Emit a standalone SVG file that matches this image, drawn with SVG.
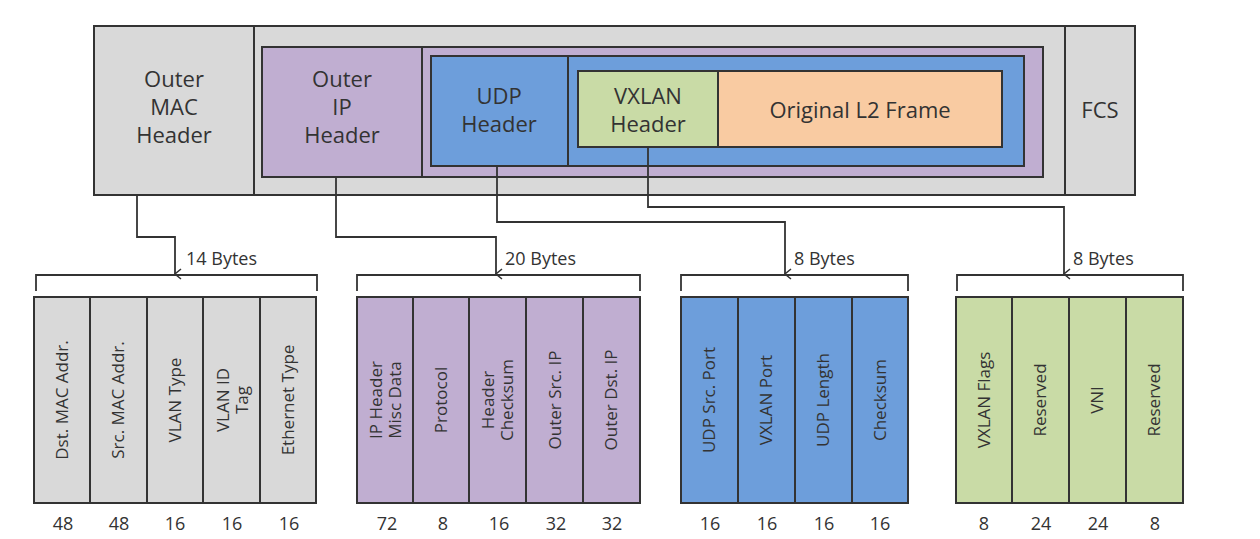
<svg xmlns="http://www.w3.org/2000/svg" width="1260" height="539" viewBox="0 0 1260 539">
<defs>
<marker id="ah" viewBox="0 0 12 12" refX="6" refY="11" markerWidth="12" markerHeight="12" markerUnits="userSpaceOnUse" orient="auto-start-reverse"><path d="M1,5 L6,11 L11,5" fill="none" stroke="#333" stroke-width="1.5"/></marker>
</defs>
<style>
text{font-family:"Open Sans","Liberation Sans",sans-serif;fill:#333}
.b{stroke:#333;stroke-width:2}
.g{fill:#d9d9d9}.p{fill:#c0aed1}.u{fill:#6d9edb}.v{fill:#c9dba6}.o{fill:#f9cba2}
.t{font-size:22px;text-anchor:middle}
.r{font-size:17px;text-anchor:middle}
.n{font-size:18px;text-anchor:middle}
.c{fill:none;stroke:#333;stroke-width:1.8}
</style>
<rect width="1260" height="539" fill="#fff"/>
<g id="outer"><rect class="b g" x="94" y="26" width="1041" height="169"/>
<line class="b" x1="254" y1="26" x2="254" y2="195"/><line class="b" x1="1065" y1="26" x2="1065" y2="195"/>
<text class="t" x="174" y="87">Outer</text><text class="t" x="174" y="115">MAC</text><text class="t" x="174" y="143">Header</text>
<text class="t" x="1100" y="118">FCS</text></g>
<g id="ip"><rect class="b p" x="262" y="47" width="781" height="130"/>
<line class="b" x1="422" y1="47" x2="422" y2="177"/>
<text class="t" x="342" y="87">Outer</text><text class="t" x="342" y="115">IP</text><text class="t" x="342" y="143">Header</text></g>
<g id="udp"><rect class="b u" x="431" y="56" width="593" height="110"/>
<line class="b" x1="568" y1="56" x2="568" y2="166"/>
<text class="t" x="499" y="104">UDP</text><text class="t" x="499" y="132">Header</text></g>
<g id="vxlan"><rect class="b v" x="578" y="71" width="140" height="76"/>
<text class="t" x="648" y="104">VXLAN</text><text class="t" x="648" y="132">Header</text></g>
<g id="l2"><rect class="b o" x="718" y="71" width="284" height="76"/>
<text class="t" x="860" y="118">Original L2 Frame</text></g>
<g id="connectors">
<path class="c" d="M137,195 V237 H175 V274" marker-end="url(#ah)"/>
<path class="c" d="M336,177 V237 H496 V274" marker-end="url(#ah)"/>
<path class="c" d="M497,166 V222 H785 V274" marker-end="url(#ah)"/>
<path class="c" d="M648,147 V207 H1064 V274" marker-end="url(#ah)"/>
<path class="c" d="M36,291 V275 H317 V291"/>
<path class="c" d="M357,291 V275 H640 V291"/>
<path class="c" d="M681,291 V275 H908 V291"/>
<path class="c" d="M957,291 V275 H1183 V291"/>
</g>
<g font-size="18"><text x="186" y="265" style="font-size:18px">14 Bytes</text><text x="505" y="265" style="font-size:18px">20 Bytes</text><text x="794" y="265" style="font-size:18px">8 Bytes</text><text x="1073" y="265" style="font-size:18px">8 Bytes</text></g>
<g id="mac-fields"><rect class="b g" x="34" y="297" width="282" height="206"/>
<path class="b" d="M90,297V503M147,297V503M203,297V503M260,297V503"/>
<text class="r" transform="translate(68,400) rotate(-90)">Dst. MAC Addr.</text>
<text class="r" transform="translate(124,400) rotate(-90)">Src. MAC Addr.</text>
<text class="r" transform="translate(181,400) rotate(-90)">VLAN Type</text>
<text class="r" transform="translate(229,400) rotate(-90)">VLAN ID</text><text class="r" transform="translate(248,400) rotate(-90)">Tag</text>
<text class="r" transform="translate(294,400) rotate(-90)">Ethernet Type</text>
<text class="n" x="63" y="530">48</text><text class="n" x="119" y="530">48</text><text class="n" x="175" y="530">16</text><text class="n" x="232" y="530">16</text><text class="n" x="289" y="530">16</text></g>
<g id="ip-fields"><rect class="b p" x="357" y="297" width="283" height="206"/>
<path class="b" d="M413,297V503M469,297V503M526,297V503M583,297V503"/>
<text class="r" transform="translate(382,400) rotate(-90)">IP Header</text><text class="r" transform="translate(401,400) rotate(-90)">Misc Data</text>
<text class="r" transform="translate(447,400) rotate(-90)">Protocol</text>
<text class="r" transform="translate(494,400) rotate(-90)">Header</text><text class="r" transform="translate(513,400) rotate(-90)">Checksum</text>
<text class="r" transform="translate(561,400) rotate(-90)">Outer Src. IP</text>
<text class="r" transform="translate(617,400) rotate(-90)">Outer Dst. IP</text>
<text class="n" x="387" y="530">72</text><text class="n" x="443" y="530">8</text><text class="n" x="499" y="530">16</text><text class="n" x="556" y="530">32</text><text class="n" x="612" y="530">32</text></g>
<g id="udp-fields"><rect class="b u" x="681" y="297" width="227" height="206"/>
<path class="b" d="M738,297V503M795,297V503M852,297V503"/>
<text class="r" transform="translate(715,400) rotate(-90)">UDP Src. Port</text>
<text class="r" transform="translate(772,400) rotate(-90)">VXLAN Port</text>
<text class="r" transform="translate(829,400) rotate(-90)">UDP Length</text>
<text class="r" transform="translate(886,400) rotate(-90)">Checksum</text>
<text class="n" x="710" y="530">16</text><text class="n" x="767" y="530">16</text><text class="n" x="824" y="530">16</text><text class="n" x="880" y="530">16</text></g>
<g id="vxlan-fields"><rect class="b v" x="956" y="297" width="227" height="206"/>
<path class="b" d="M1012,297V503M1069,297V503M1126,297V503"/>
<text class="r" transform="translate(990,400) rotate(-90)">VXLAN Flags</text>
<text class="r" transform="translate(1046,400) rotate(-90)">Reserved</text>
<text class="r" transform="translate(1103,400) rotate(-90)">VNI</text>
<text class="r" transform="translate(1160,400) rotate(-90)">Reserved</text>
<text class="n" x="984" y="530">8</text><text class="n" x="1041" y="530">24</text><text class="n" x="1098" y="530">24</text><text class="n" x="1155" y="530">8</text></g>
</svg>
